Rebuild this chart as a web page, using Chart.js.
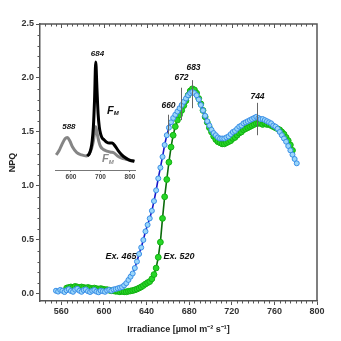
<!DOCTYPE html>
<html>
<head>
<meta charset="utf-8">
<script src="https://cdn.jsdelivr.net/npm/chart.js@4.4.1/dist/chart.umd.min.js"></script>
<style>
  html, body { margin: 0; padding: 0; background: #fff; }
  #wrap { position: relative; width: 341px; height: 341px; }
  #main { position: absolute; left: 0; top: 0; }
  #inset { position: absolute; left: 50px; top: 40px; }
</style>
</head>
<body>
<div id="wrap">
  <canvas id="main" width="341" height="341"></canvas>
  <canvas id="inset" width="95" height="145"></canvas>
</div>
<script>
// NPQ versus irradiance, excitation at 465 nm
const ex465X = [555,557,559,561,563,565,567,569,571,573,575,577,579,581,583,585,587,589,591,593,595,597,599,601,603,605,607,609,611,613,615,617,619,621,623,625,627,629,631,633,635,637,639,641,643,645,647,649,651,653,655,657,659,661,663,665,667,669,671,673,675,677,679,681,683,685,687,689,691,693,695,697,699,701,703,705,707,709,711,713,715,717,719,721,723,725,727,729,731,733,735,737,739,741,743,745,747,749,751,753,755,757,759,761,763,765,767,769,771,773,775,777,779,781];
const ex465Y = [0.030,0.022,0.038,0.030,0.018,0.034,0.044,0.028,0.020,0.040,0.048,0.030,0.020,0.036,0.042,0.026,0.018,0.030,0.036,0.022,0.016,0.030,0.026,0.020,0.032,0.038,0.030,0.042,0.046,0.052,0.058,0.064,0.080,0.100,0.130,0.160,0.190,0.240,0.300,0.370,0.430,0.500,0.580,0.640,0.700,0.770,0.860,0.960,1.070,1.170,1.270,1.380,1.470,1.540,1.590,1.630,1.660,1.690,1.720,1.750,1.780,1.810,1.840,1.860,1.870,1.860,1.840,1.800,1.750,1.700,1.650,1.600,1.560,1.520,1.490,1.470,1.450,1.440,1.440,1.440,1.450,1.460,1.480,1.500,1.510,1.530,1.550,1.560,1.580,1.590,1.600,1.610,1.620,1.630,1.640,1.630,1.620,1.620,1.610,1.600,1.590,1.580,1.560,1.550,1.530,1.500,1.470,1.440,1.410,1.370,1.330,1.290,1.250,1.210];

// NPQ versus irradiance, excitation at 520 nm
const ex520X = [565,567,569,571,573,575,577,579,581,583,585,587,589,591,593,595,597,599,601,603,605,607,609,611,613,615,617,619,621,623,625,627,629,631,633,635,637,639,641,643,645,647,649,651,653,655,657,659,661,663,665,667,669,671,673,675,677,679,681,683,685,687,689,691,693,695,697,699,701,703,705,707,709,711,713,715,717,719,721,723,725,727,729,731,733,735,737,739,741,743,745,747,749,751,753,755,757,759,761,763,765,767,769,771,773,775,777];
const ex520Y = [0.055,0.060,0.065,0.060,0.070,0.065,0.060,0.065,0.060,0.055,0.060,0.055,0.050,0.055,0.050,0.045,0.050,0.045,0.040,0.040,0.035,0.030,0.030,0.025,0.025,0.020,0.025,0.020,0.020,0.025,0.028,0.032,0.038,0.045,0.055,0.065,0.078,0.092,0.105,0.115,0.140,0.180,0.240,0.340,0.480,0.700,0.900,1.060,1.220,1.360,1.470,1.550,1.610,1.660,1.700,1.745,1.790,1.840,1.880,1.900,1.890,1.860,1.810,1.760,1.700,1.640,1.590,1.540,1.500,1.460,1.430,1.410,1.400,1.390,1.390,1.400,1.410,1.420,1.440,1.450,1.470,1.490,1.500,1.520,1.530,1.540,1.550,1.560,1.570,1.580,1.580,1.580,1.570,1.580,1.570,1.570,1.560,1.550,1.540,1.530,1.520,1.500,1.480,1.450,1.420,1.380,1.330];

const xTicks = [560, 600, 640, 680, 720, 760, 800];
const yTicks = [0.0, 0.5, 1.0, 1.5, 2.0, 2.5];
const peakMarks = ['660', '672', '683', '744'];
const seriesNames = ['Ex. 465', 'Ex. 520'];

// Inset: fluorescence emission spectra (relative units)
const fmWl  = [655,662,668,672,676,680,684,688,692,696,700,705,712,720,730,740,750,760,772,786,800,815];
const fmVal = [0.13,0.15,0.20,0.27,0.40,0.65,1.00,0.76,0.52,0.40,0.34,0.30,0.28,0.26,0.25,0.25,0.22,0.18,0.14,0.11,0.09,0.08];
const fmPrimeWl  = [550,560,570,580,588,596,606,620,636,652,662,670,676,680,684,688,694,700,710,722,735,745,758,772,786,800,815];
const fmPrimeVal = [0.14,0.18,0.24,0.29,0.30,0.27,0.21,0.16,0.14,0.13,0.15,0.20,0.27,0.34,0.40,0.35,0.27,0.22,0.19,0.175,0.165,0.16,0.13,0.11,0.10,0.09,0.085];
const insetTicks = [600, 700, 800];

const FONT = "'Liberation Sans', Arial, sans-serif";
const AXIS = '#555';

function pts(xs, ys) { return xs.map((x, i) => ({ x: x, y: ys[i] })); }

// frame, mirrored top ticks and minor ticks
const axisDecor = {
  id: 'axisDecor',
  afterDraw(chart) {
    const { ctx, chartArea: a, scales: { x, y } } = chart;
    ctx.save();
    ctx.strokeStyle = AXIS;
    ctx.lineWidth = 1.5;
    ctx.beginPath();
    ctx.moveTo(a.left, a.top);
    ctx.lineTo(a.right, a.top);
    ctx.lineTo(a.right, a.bottom);
    ctx.stroke();
    ctx.lineWidth = 1;
    ctx.beginPath();
    for (let v = 545; v < 800; v += 5) {
      const px = Math.round(x.getPixelForValue(v)) + 0.5;
      const major = v % 40 === 0;
      if (!major) { ctx.moveTo(px, a.bottom); ctx.lineTo(px, a.bottom + 2.5); }
      ctx.moveTo(px, a.top); ctx.lineTo(px, a.top + (major ? 4 : 2.5));
    }
    for (let k = 0; k < 25; k++) {
      if (k % 5 === 0) continue;
      const py = Math.round(y.getPixelForValue(k / 10)) + 0.5;
      ctx.moveTo(a.left - 2.5, py); ctx.lineTo(a.left, py);
    }
    ctx.stroke();
    ctx.restore();
  }
};

// peak position markers and series captions
const markers = {
  id: 'markers',
  afterDatasetsDraw(chart, args, opts) {
    const { ctx, scales: { x, y } } = chart;
    ctx.save();
    ctx.strokeStyle = '#666';
    ctx.lineWidth = 1;
    ctx.fillStyle = '#111';
    ctx.textAlign = 'center';
    ctx.textBaseline = 'middle';
    ctx.font = 'italic bold 8.5px ' + FONT;
    peakMarks.forEach((lab, i) => {
      const m = opts.lines[i];
      const px = Math.round(x.getPixelForValue(Number(lab))) + 0.5;
      ctx.beginPath();
      ctx.moveTo(px, y.getPixelForValue(m[0]));
      ctx.lineTo(px, y.getPixelForValue(m[1]));
      ctx.stroke();
      ctx.fillText(lab, px + m[3], y.getPixelForValue(m[2]));
    });
    ctx.font = 'italic bold 9px ' + FONT;
    seriesNames.forEach((s, i) => {
      const p = opts.captions[i];
      ctx.fillText(s, x.getPixelForValue(p[0]), y.getPixelForValue(p[1]));
    });
    ctx.restore();
  }
};

new Chart(document.getElementById('main'), {
  type: 'line',
  data: {
    datasets: [
      {
        label: seriesNames[0],
        data: pts(ex465X, ex465Y),
        borderColor: '#1515c8',
        borderWidth: 1.6,
        pointRadius: 2.5,
        pointBackgroundColor: '#9ad6fa',
        pointBorderColor: '#3a8ee6',
        pointBorderWidth: 1,
        tension: 0
      },
      {
        label: seriesNames[1],
        data: pts(ex520X, ex520Y),
        borderColor: '#0a6a0a',
        borderWidth: 1.6,
        pointRadius: 2.9,
        pointBackgroundColor: '#27d627',
        pointBorderColor: '#12b012',
        pointBorderWidth: 1,
        tension: 0
      }
    ]
  },
  options: {
    responsive: false,
    animation: false,
    devicePixelRatio: 1,
    layout: { padding: { left: 0, right: 24, top: 24, bottom: 0 } },
    plugins: {
      legend: { display: false },
      tooltip: { enabled: false },
      markers: {
        // [from, to, label y, label dx]
        lines: [[1.48, 1.66, 1.74, 0], [1.61, 1.91, 2.00, 0], [1.72, 1.98, 2.10, 1], [1.47, 1.77, 1.83, 0]],
        captions: [[616, 0.35], [670.5, 0.35]]
      }
    },
    scales: {
      x: {
        type: 'linear',
        min: 540,
        max: 800,
        afterFit: (s) => { s.height = 40; },
        afterBuildTicks: (s) => { s.ticks = xTicks.map(v => ({ value: v })); },
        ticks: {
          font: { family: FONT, size: 9, weight: 'bold' },
          color: '#333',
          padding: 1,
          maxRotation: 0,
          autoSkip: false
        },
        grid: { drawOnChartArea: false, tickLength: 4, color: AXIS, lineWidth: 1 },
        border: { color: AXIS, width: 1.5 },
        title: {
          display: true,
          text: 'Irradiance [µmol m⁻² s⁻¹]',
          color: '#222',
          font: { family: FONT, size: 9, weight: 'bold' },
          padding: { top: 0, bottom: 6 }
        }
      },
      y: {
        type: 'linear',
        min: -0.065,
        max: 2.5,
        afterFit: (s) => { s.width = 40; },
        afterBuildTicks: (s) => { s.ticks = yTicks.map(v => ({ value: v })); },
        ticks: {
          font: { family: FONT, size: 9, weight: 'bold' },
          color: '#333',
          padding: 2,
          callback: (v) => Number(v).toFixed(1)
        },
        grid: { drawOnChartArea: false, tickLength: 4, color: AXIS, lineWidth: 1 },
        border: { color: AXIS, width: 1.5 },
        title: {
          display: true,
          text: 'NPQ',
          color: '#222',
          font: { family: FONT, size: 9, weight: 'bold' },
          padding: { top: 7, bottom: 0 }
        }
      }
    }
  },
  plugins: [axisDecor, markers]
});

// spectrum labels in the inset
const insetLabels = {
  id: 'insetLabels',
  afterDatasetsDraw(chart) {
    const { ctx, scales: { x, y } } = chart;
    ctx.save();
    ctx.textBaseline = 'middle';
    ctx.textAlign = 'center';
    ctx.fillStyle = '#111';
    ctx.font = 'italic bold 8px ' + FONT;
    ctx.fillText('684', x.getPixelForValue(690), y.getPixelForValue(1.08));
    ctx.fillText('588', x.getPixelForValue(593), y.getPixelForValue(0.40));

    const sub = (label, color, wl, v, prime) => {
      let px = x.getPixelForValue(wl);
      const py = y.getPixelForValue(v);
      ctx.fillStyle = color;
      ctx.textAlign = 'left';
      ctx.font = 'italic bold 11px ' + FONT;
      ctx.fillText(label, px, py);
      px += ctx.measureText(label).width;
      ctx.font = 'italic bold 6px ' + FONT;
      ctx.fillText('M', px, py + 3);
      if (prime) {
        px += ctx.measureText('M').width + 1;
        ctx.font = 'italic bold 8px ' + FONT;
        ctx.fillText("'", px, py - 2);
      }
    };
    sub('F', '#111', 722, 0.55, false);
    sub('F', '#8a8a8a', 705, 0.10, true);
    ctx.restore();
  }
};

new Chart(document.getElementById('inset'), {
  type: 'line',
  data: {
    datasets: [
      {
        label: 'F_M',
        data: pts(fmWl, fmVal),
        borderColor: '#000',
        borderWidth: 3,
        pointRadius: 0,
        cubicInterpolationMode: 'monotone'
      },
      {
        label: "F_M'",
        data: pts(fmPrimeWl, fmPrimeVal),
        borderColor: '#858585',
        borderWidth: 3,
        pointRadius: 0,
        cubicInterpolationMode: 'monotone'
      }
    ]
  },
  options: {
    responsive: false,
    animation: false,
    devicePixelRatio: 1,
    clip: false,
    layout: { padding: { left: 5, right: 10, top: 16, bottom: 0 } },
    plugins: { legend: { display: false }, tooltip: { enabled: false } },
    scales: {
      x: {
        type: 'linear',
        min: 546,
        max: 817,
        afterFit: (s) => { s.height = 15; },
        afterBuildTicks: (s) => { s.ticks = insetTicks.map(v => ({ value: v })); },
        ticks: {
          font: { family: FONT, size: 6.5, weight: 'bold' },
          color: '#444',
          padding: 1,
          maxRotation: 0,
          autoSkip: false
        },
        grid: { drawOnChartArea: false, tickLength: 2, color: '#777', lineWidth: 1 },
        border: { color: '#777', width: 1 }
      },
      y: { display: false, min: 0, max: 1.056 }
    }
  },
  plugins: [insetLabels]
});
</script>
</body>
</html>
